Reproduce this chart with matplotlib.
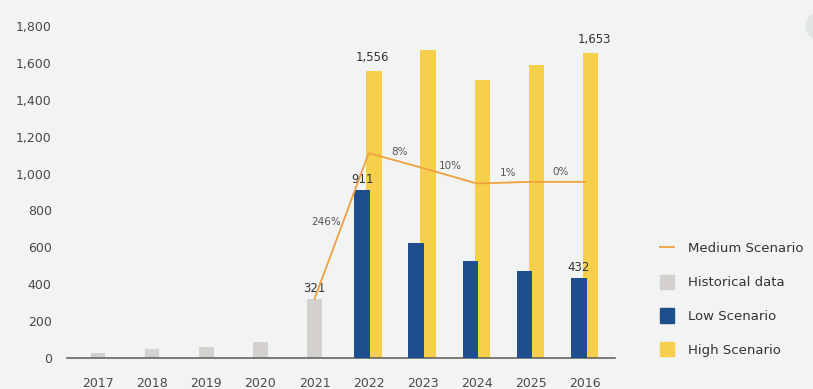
import matplotlib
matplotlib.use("Agg")
import matplotlib.pyplot as plt
from matplotlib.lines import Line2D
from matplotlib.patches import Patch, Ellipse
from matplotlib.ticker import FuncFormatter

# yearly figures, historical and scenarios
years = ["2017", "2018", "2019", "2020", "2021", "2022", "2023", "2024", "2025", "2026"]
year_labels = ["2017", "2018", "2019", "2020", "2021", "2022", "2023", "2024", "2025", "2016"]
historical = [28, 50, 60, 88, 321]
low = [911, 625, 527, 473, 432]
high = [1556, 1670, 1505, 1588, 1653]
medium = [321, 1111, 1030, 946, 955, 955]
growth = ["246%", "8%", "10%", "1%", "0%"]

bg = "#f1f4f2"
grey = "#d3d0ce"
blue = "#1f4e8c"
yellow = "#f6d04a"
orange = "#f0a040"
text_c = "#4a4a4a"

fig = plt.figure(figsize=(8.13, 3.89), dpi=100)
fig.patch.set_facecolor(bg)
ax = fig.add_axes([67 / 813, 31 / 389, 548 / 813, 332 / 389])
ax.set_facecolor(bg)

x = list(range(len(years)))
hx = x[:5]
sx = x[5:]
lx = [i - 0.12 for i in sx]
rx = [i + 0.1 for i in sx]

ax.bar(hx, historical, width=0.27, color=grey, zorder=2)
ax.bar(rx, high, width=0.29, color=yellow, zorder=2)
ax.bar(lx, low, width=0.29, color=blue, zorder=3)
mx = x[4:]
ax.plot(mx, medium, color=orange, lw=1.3, zorder=4)

lbl = dict(ha="center", va="bottom", fontsize=8.5, color="#333333")
ax.annotate("321", (hx[4], historical[4]), xytext=(0, 3), textcoords="offset points", **lbl)
ax.annotate(f"{low[0]:,}", (lx[0], low[0]), xytext=(0, 3), textcoords="offset points", **lbl)
ax.annotate(f"{high[0]:,}", (rx[0], high[0]), xytext=(-1, 5), textcoords="offset points", **lbl)
ax.annotate(f"{low[-1]:,}", (lx[-1], low[-1]), xytext=(0, 3), textcoords="offset points", **lbl)
ax.annotate(f"{high[-1]:,}", (rx[-1], high[-1]), xytext=(3, 5), textcoords="offset points", **lbl)

# growth labels at the middle of each segment
offsets = [(-11, 3), (3, 6), (0, 7), (3, 7), (2, 7)]
for i, g in enumerate(growth):
    xm = (mx[i] + mx[i + 1]) / 2
    ym = (medium[i] + medium[i + 1]) / 2
    ax.annotate(g, (xm, ym), xytext=offsets[i], textcoords="offset points",
                ha="center", va="center", fontsize=7.5, color="#555555")

ax.set_xlim(-0.573, 9.55)
ax.set_ylim(0, 1800)
ax.set_yticks(range(0, 1801, 200))
ax.yaxis.set_major_formatter(FuncFormatter(lambda v, p: f"{int(v):,}"))
ax.set_xticks(x)
ax.set_xticklabels(year_labels)
ax.tick_params(length=0, labelsize=9, colors=text_c)
ax.tick_params(axis="y", pad=11)
ax.tick_params(axis="x", pad=14)
for s in ["top", "right", "left"]:
    ax.spines[s].set_visible(False)
ax.spines["bottom"].set_color("#666666")
ax.spines["bottom"].set_linewidth(1.2)

handles = [
    Line2D([0], [0], color=orange, lw=1.3),
    Patch(color=grey),
    Patch(color=blue),
    Patch(color=yellow),
]
names = ["Medium Scenario", "Historical data", "Low Scenario", "High Scenario"]
fig.legend(handles, names, loc="upper left", bbox_to_anchor=(648 / 813, 1 - 229 / 389),
           frameon=False, fontsize=9.5, labelspacing=1.45, handlelength=1.1,
           handleheight=1.3, handletextpad=1.0, labelcolor="#333333")

fig.patches.append(Ellipse((819 / 813, 1 - 26 / 389), 26 / 813, 26 / 389,
                           transform=fig.transFigure, color="#e1e6e4", zorder=0))

fig.savefig("out.png", dpi=100, facecolor=bg)
